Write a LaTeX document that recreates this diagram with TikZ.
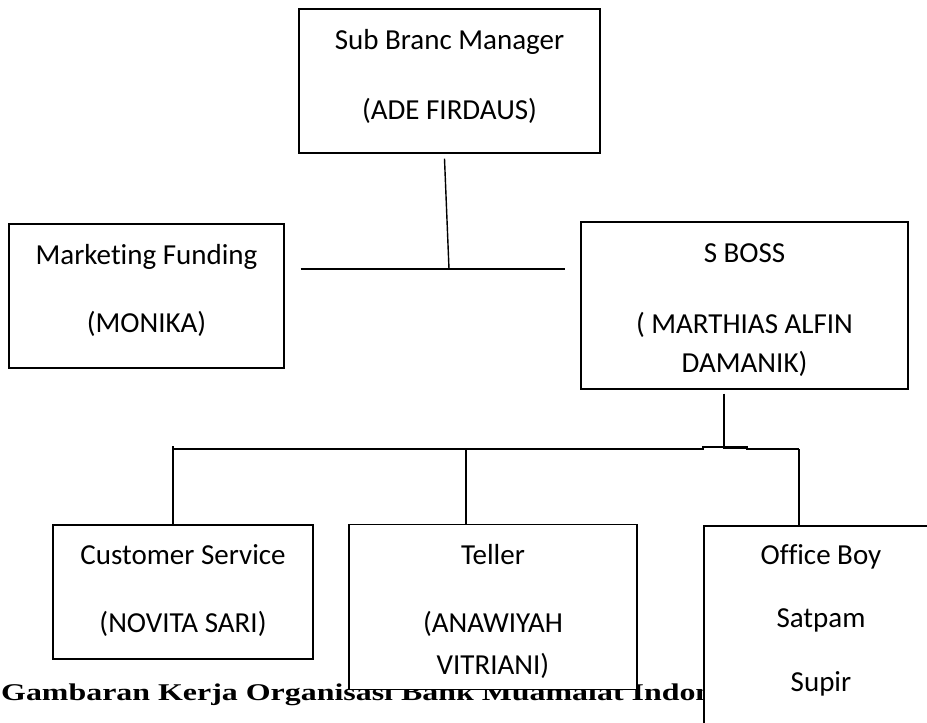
\documentclass[tikz,border=0pt]{standalone}
\usepackage{fontspec}
\setmainfont{Carlito}[Ligatures=NoCommon]
\newfontfamily\capfont[FakeStretch=1.33]{Liberation Serif}
% invisible struts to set the text a bit higher or lower in a box
\newcommand\padtop[1]{\rule{0pt}{#1pt}}
\newcommand\padbot[1]{\rule[-#1pt]{0pt}{#1pt}}
\begin{document}
\begin{tikzpicture}[x=1pt,y=-1pt,
    box/.style={draw, line width=1.4pt, fill=white, align=center, inner sep=0pt,
      font=\fontsize{29}{35}\selectfont},
    link/.style={line width=1.4pt}]
  \useasboundingbox (0,0) rectangle (927,723);

  % Caption, partly hidden behind the lower boxes
  \node[anchor=base west, inner sep=0pt, font=\capfont\bfseries\fontsize{24}{28}\selectfont]
    (cap) at (1,700) {Gambaran Kerja Organisasi Bank Muamalat Indon};

  % Top
  \node[box, minimum width=301, minimum height=144] (sbm) at (449.5,81)
    {\padtop{30}Sub Branc Manager\\[35pt](ADE FIRDAUS)\padbot{23}};

  % Middle row
  \node[box, minimum width=275, minimum height=144] (mf) at (146.5,296)
    {\padtop{30}Marketing Funding\\[33pt](MONIKA)\padbot{25}};
  \node[box, minimum width=327, minimum height=167] (sb) at (744.5,305.5)
    {\padtop{40}S BOSS\\[36pt]( MARTHIAS ALFIN\\[4pt]DAMANIK)\padbot{16}};

  % Bottom row
  \node[box, minimum width=260, minimum height=134] (cs) at (183,592)
    {\padtop{30}Customer Service\\[33pt](NOVITA SARI)\padbot{17}};
  \node[box, minimum width=288, minimum height=162] (tl) at (493,607)
    {\padtop{40}Teller\\[33pt](ANAWIYAH\\[7pt]VITRIANI)\padbot{15}};
  \node[box, minimum width=234, minimum height=254] (ob) at (821,653)
    {\padtop{25}Office Boy\\[28pt]Satpam\\[29pt]Supir\padbot{75}};

  % Junctions
  \coordinate (j1) at (449,269);
  \coordinate (j2) at (724,449);
  \coordinate (d1) at (173,449);
  \coordinate (d2) at (466,449);
  \coordinate (d3) at (799,449);

  % Upper connectors
  \draw[link] ([shift={(-5,5)}]sbm.south) -- (j1);
  \path (mf.east |- j1) ++(16,0) coordinate (l1);
  \path (sb.west |- j1) ++(-15,0) coordinate (r1);
  \draw[link] (l1) -- (r1);

  % Lower connectors
  \draw[link] (sb.south -| j2) ++(0,4) -- (j2);
  \draw[link] (d1) -- (703,449) -- (703,447) -- (747,447) -- (747,449) -- (d3);
  \draw[line width=3pt] (724,447.5) -- (747,447.5);
  \draw[link] (d1) ++(0,-3) -- (d1 |- cs.north);
  \foreach \d/\b in {d2/tl, d3/ob}
    \draw[link] (\d) -- (\d |- \b.north);
\end{tikzpicture}
\end{document}
